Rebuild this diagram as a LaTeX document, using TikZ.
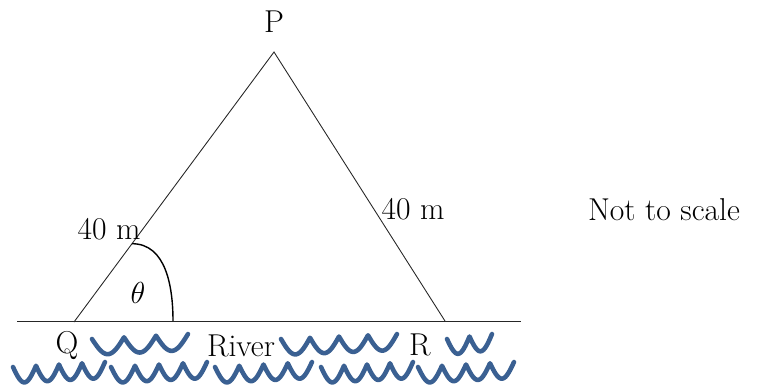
\documentclass[tikz,border=0pt]{standalone}
\usepackage{tikz}
\usetikzlibrary{positioning,calc}
\definecolor{riverblue}{RGB}{58,96,146}

\newcommand{\wavy}[4]{% x, y, width, number of dips
  \draw[wv] plot[domain=0:1, samples=121] ({#1+#3*\x},{#2+16*abs(sin(180*#4*\x)) - 5*\x});
}

\begin{document}
\begin{tikzpicture}[x=0.02cm, y=-0.02cm]
\tikzstyle{lbl} = [font=\fontsize{18}{21}\selectfont, inner sep=0pt]
\tikzstyle{side} = [draw, line width=0.5pt, black!85]
\tikzstyle{wv} = [draw, riverblue, line width=2.6pt, line cap=round, line join=round]
\useasboundingbox (0,0) rectangle (762,392);

% triangle corners
\coordinate (P) at (274,52);
\coordinate (Q) at (74,322);
\coordinate (R) at (445,321);
\coordinate (bankl) at (17,321);
\coordinate (bankr) at (521,321);

\draw [side] (bankl) -- (bankr);
\draw [side] (Q) -- (P) -- (R);
\draw [line width=0.8pt] ($(Q)!0.29!(P)$) to[out=0, in=90] (173,321);

% labels
\node [lbl] (lp) at (274,22) {P};
\node [lbl] (lq) at (67,346) {Q};
\node [lbl] (lr) at (420,345) {R};
\node [lbl] (river) at (241,346) {River};
\node [lbl] (sidel) at (109,229) {40 m};
\node [lbl] (sider) at (413,209) {40 m};
\node [lbl] (theta) at (138,293) {$\theta$};
\node [lbl] (note) at (664,210) {Not to scale};

% river waves
\wavy{92}{339}{96}{3}
\wavy{281}{339}{116}{4}
\wavy{447}{339}{45}{2}
\wavy{13}{367}{92}{4}
\wavy{111}{367}{96}{4}
\wavy{215}{367}{97}{4}
\wavy{321}{367}{92}{4}
\wavy{418}{367}{96}{4}
\end{tikzpicture}
\end{document}
